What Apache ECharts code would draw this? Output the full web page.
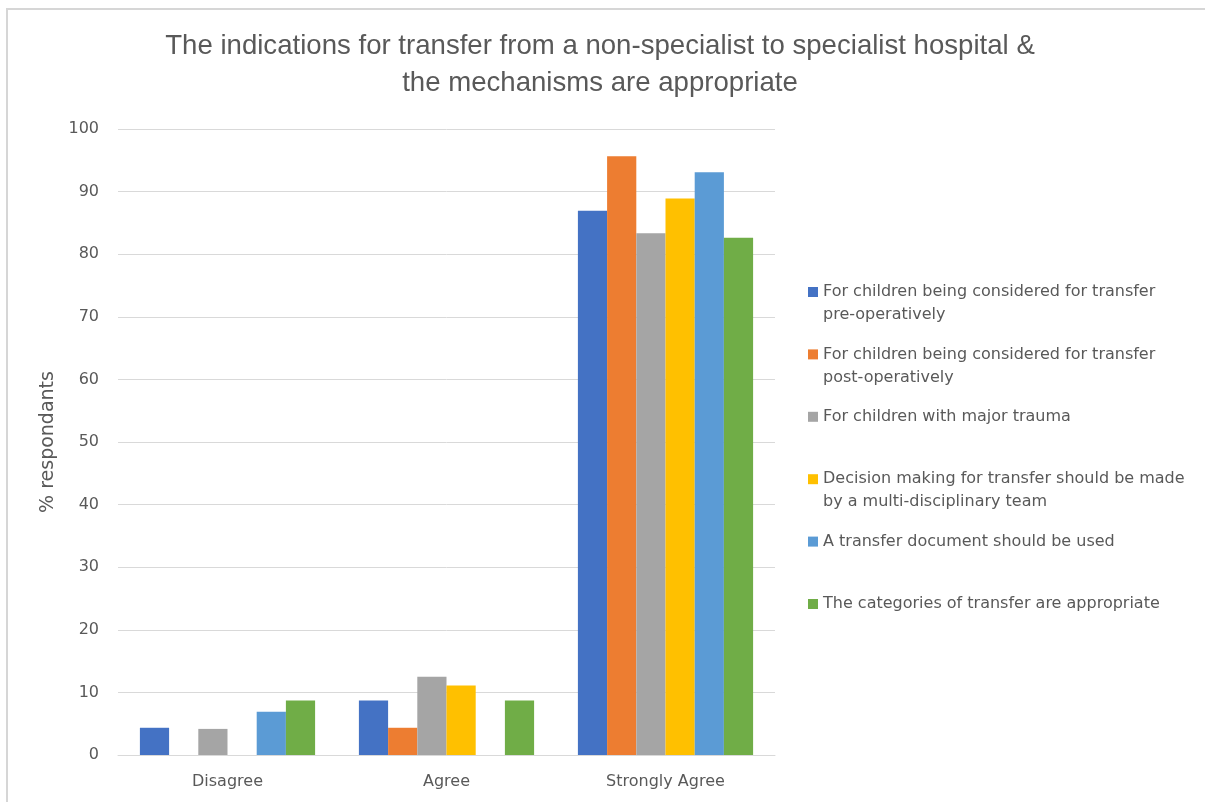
<!DOCTYPE html>
<html>
<head>
<meta charset="utf-8">
<script src="https://cdn.jsdelivr.net/npm/echarts@6/dist/echarts.min.js"></script>
<style>
html,body{margin:0;padding:0;background:#fff;}
#frame{position:absolute;left:6px;top:8px;width:1199px;height:794px;border-top:2px solid #d6d6d6;border-left:2px solid #d6d6d6;box-sizing:border-box;}
#chart{position:absolute;left:0;top:0;width:1205px;height:802px;}
</style>
</head>
<body>
<div id="frame"></div>
<div id="chart"></div>
<script>
const categories = ['Disagree', 'Agree', 'Strongly Agree'];
const seriesNames = [
  'For children being considered for transfer pre-operatively',
  'For children being considered for transfer post-operatively',
  'For children with major trauma',
  'Decision making for transfer should be made by a multi-disciplinary team',
  'A transfer document should be used',
  'The categories of transfer are appropriate'
];
const legendLines = [
  ['For children being considered for transfer', 'pre-operatively'],
  ['For children being considered for transfer', 'post-operatively'],
  ['For children with major trauma', ' '],
  ['Decision making for transfer should be made', 'by a multi-disciplinary team'],
  ['A transfer document should be used', ' '],
  ['The categories of transfer are appropriate', ' ']
];
const preOperatively = [4.35, 8.7, 86.96];
const postOperatively = [0, 4.35, 95.65];
const majorTrauma = [4.17, 12.5, 83.33];
const multiDisciplinary = [0, 11.11, 88.89];
const transferDocument = [6.9, 0, 93.1];
const categoriesAppropriate = [8.7, 8.7, 82.61];
const yTicks = [0, 10, 20, 30, 40, 50, 60, 70, 80, 90, 100];
const colors = ['#4472C4', '#ED7D31', '#A5A5A5', '#FFC000', '#5B9BD5', '#70AD47'];

const values = [preOperatively, postOperatively, majorTrauma, multiDisciplinary, transferDocument, categoriesAppropriate];
const font = '"Liberation Sans", "Open Sans", sans-serif';
const wideFont = '"DejaVu Sans", "Liberation Sans", sans-serif';

const rich = { t: { fontSize: 16, color: '#595959', fontFamily: wideFont, lineHeight: 23 }, sp: { width: 15, height: 10 } };
colors.forEach((c, i) => { rich['b' + i] = { width: 10, height: 10, backgroundColor: c, padding: 0 }; rich['g' + i] = { width: 5 }; });

const chart = echarts.init(document.getElementById('chart'));
chart.setOption({
  backgroundColor: 'transparent',
  animation: false,
  color: colors,
  title: {
    text: 'The indications for transfer from a non-specialist to specialist hospital &\nthe mechanisms are appropriate',
    left: 595, top: 23, textAlign: 'center',
    textStyle: { fontSize: 27.6, fontWeight: 'normal', color: '#595959', fontFamily: font, lineHeight: 37 }
  },
  legend: {
    orient: 'vertical',
    left: 798, top: 279,
    icon: 'none', itemWidth: 0, itemHeight: 0,
    itemGap: 23.4,
    selectedMode: false,
    data: seriesNames,
    formatter: function (name) {
      const i = seriesNames.indexOf(name);
      const l = legendLines[i];
      return '{b' + i + '|}{g' + i + '|}{t|' + l[0] + '}\n{sp|}{t|' + l[1] + '}';
    },
    textStyle: { rich: rich, fontFamily: wideFont }
  },
  grid: { left: 118, right: 1205 - 775, top: 129, bottom: 802 - 755, containLabel: false },
  xAxis: {
    type: 'category', data: categories,
    axisLine: { lineStyle: { color: '#d9d9d9', width: 1 } },
    axisTick: { show: false },
    axisLabel: { fontSize: 16, color: '#595959', fontFamily: wideFont, margin: 19 }
  },
  yAxis: {
    type: 'value', min: 0, max: 100, interval: 10,
    name: '% respondants', nameLocation: 'middle', nameGap: 59, nameRotate: 90,
    nameTextStyle: { fontSize: 19, color: '#595959', fontFamily: wideFont },
    axisLine: { show: false }, axisTick: { show: false },
    axisLabel: { fontSize: 16, color: '#595959', fontFamily: wideFont, margin: 19,
      formatter: v => yTicks.includes(v) ? String(v) : '' },
    splitLine: { lineStyle: { color: '#d9d9d9', width: 1 } }
  },
  series: seriesNames.map((n, i) => ({
    name: n, type: 'bar', data: values[i],
    barGap: '0%', barCategoryGap: '20%',
    itemStyle: { color: colors[i] }
  }))
});
</script>
</body>
</html>
